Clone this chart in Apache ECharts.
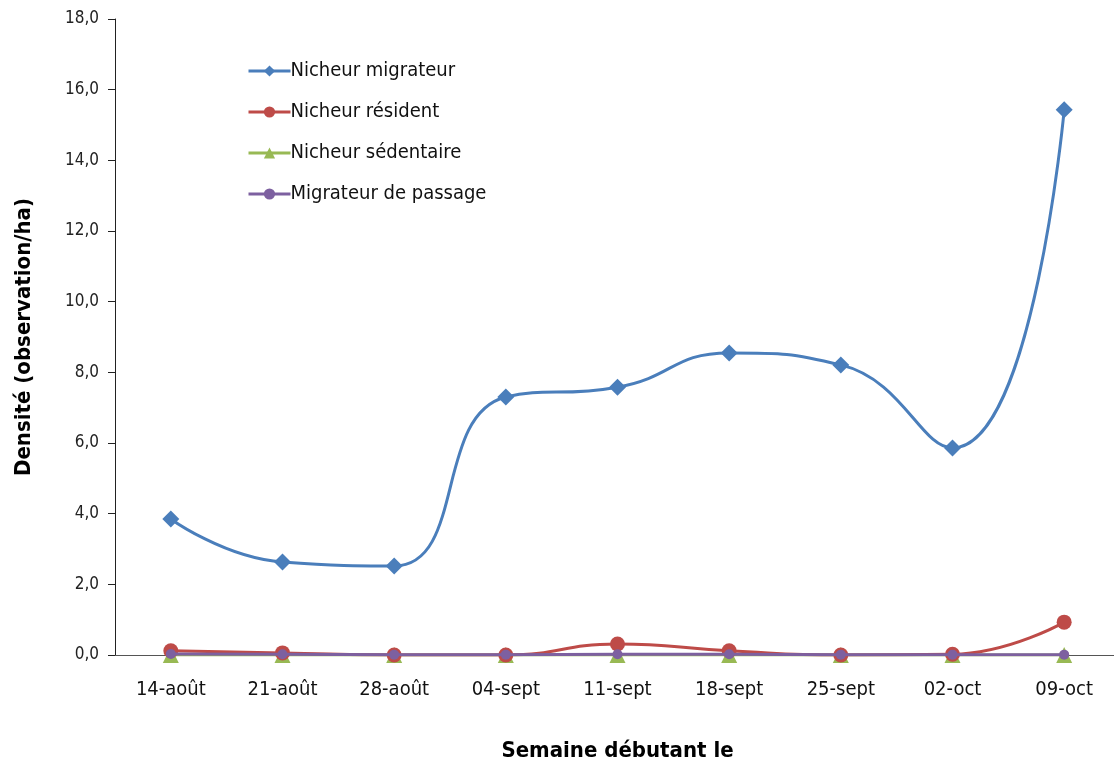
<!DOCTYPE html>
<html>
<head>
<meta charset="utf-8">
<script src="https://cdn.jsdelivr.net/npm/echarts@6/dist/echarts.min.js"></script>
<style>html,body{margin:0;padding:0;background:#fff;overflow:hidden}#c{width:1114px;height:765px}</style>
</head>
<body>
<div id="c"></div>
<script>
const categories = ['14-août','21-août','28-août','04-sept','11-sept','18-sept','25-sept','02-oct','09-oct'];
const nicheurMigrateur = [3.85, 2.63, 2.52, 7.30, 7.58, 8.55, 8.21, 5.86, 15.43];
const nicheurResident = [0.12, 0.06, 0.0, 0.0, 0.31, 0.12, 0.0, 0.02, 0.93];
const nicheurSedentaire = [0, 0, 0, 0, 0, 0, 0, 0, 0];
const migrateurPassage = [0.03, 0.02, 0.01, 0.01, 0.02, 0.02, 0.01, 0.01, 0.01];
const seriesNames = ['Nicheur migrateur','Nicheur résident','Nicheur sédentaire','Migrateur de passage'];

const narrow = '"DejaVu Sans Condensed", "Liberation Sans Narrow", "Arial Narrow", sans-serif';
const chart = echarts.init(document.getElementById('c'));
function mk(name, data, color, symbol, size, z) {
  return {
    name, type: 'line', data, smooth: 0.5, symbol, symbolSize: size, z,
    lineStyle: { color, width: 3 }, itemStyle: { color }
  };
}
chart.setOption({
  animation: false,
  backgroundColor: '#fff',
  grid: { left: 115, right: -6, top: 19, bottom: 110, containLabel: false, outerBoundsMode: 'none' },
  legend: {
    orient: 'vertical', left: 247, top: 61, itemGap: 21,
    itemWidth: 42, itemHeight: 14, padding: 0,
    lineStyle: { width: 3 },
    textStyle: { fontFamily: narrow, fontSize: 20, color: '#111', padding: [0,0,0,-5] },
    data: seriesNames
  },
  xAxis: {
    type: 'category', data: categories, boundaryGap: true,
    axisLine: { lineStyle: { color: '#555', width: 1 } },
    axisTick: { show: false },
    axisLabel: { fontFamily: narrow, fontSize: 20, color: '#111', margin: 25 },
    name: 'Semaine débutant le', nameLocation: 'middle', nameGap: 85,
    nameTextStyle: { fontFamily: narrow, fontSize: 22, fontWeight: 'bold', color: '#000' }
  },
  yAxis: {
    type: 'value', min: 0, max: 18, interval: 2,
    splitLine: { show: false },
    axisLine: { show: true, lineStyle: { color: '#222', width: 1 } },
    axisTick: { show: true, inside: false, length: 7, lineStyle: { color: '#222' } },
    axisLabel: { fontFamily: narrow, fontSize: 17, color: '#222', margin: 16,
      formatter: v => v.toFixed(1).replace('.', ',') },
    name: 'Densité (observation/ha)', nameLocation: 'middle', nameGap: 80,
    nameTextStyle: { fontFamily: narrow, fontSize: 22, fontWeight: 'bold', color: '#000' }
  },
  series: [
    mk(seriesNames[0], nicheurMigrateur, '#4A7EBB', 'diamond', 17, 4),
    mk(seriesNames[1], nicheurResident, '#BE4B48', 'circle', 15, 3),
    mk(seriesNames[2], nicheurSedentaire, '#98B954', 'triangle', 16, 2),
    mk(seriesNames[3], migrateurPassage, '#7D60A0', 'circle', 10, 5)
  ]
});
</script>
</body>
</html>
